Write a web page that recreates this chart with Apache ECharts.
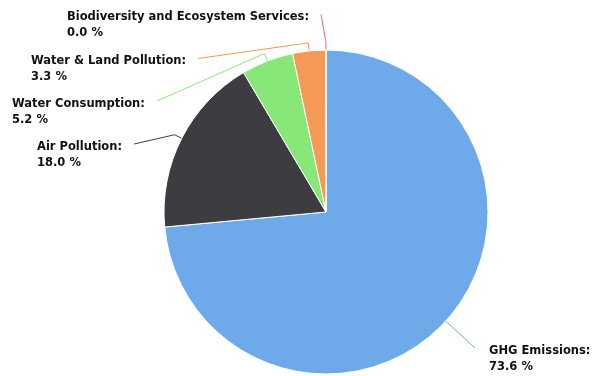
<!DOCTYPE html>
<html>
<head>
<meta charset="utf-8">
<script src="https://cdn.jsdelivr.net/npm/echarts@6/dist/echarts.min.js"></script>
<style>html,body{margin:0;padding:0;background:#fff;}#c{width:599px;height:376px;}</style>
</head>
<body>
<div id="c"></div>
<script>
const categories = ['GHG Emissions', 'Air Pollution', 'Water Consumption', 'Water & Land Pollution', 'Biodiversity and Ecosystem Services'];
const values = [73.6, 18.0, 5.2, 3.3, 0.01];
const colors = ['#6eaae9', '#3d3c41', '#88e877', '#f59a56', '#f2607f'];

// label layout (top-left of label block) and side
const labelPos = [
  { x: 489, y: 343, side: 'right' },
  { x: 37, y: 139, side: 'left' },
  { x: 12, y: 96, side: 'left' },
  { x: 31, y: 53.5, side: 'left' },
  { x: 67, y: 9.5, side: 'left' }
];

const chart = echarts.init(document.getElementById('c'), null, { renderer: 'canvas' });
chart.setOption({
  animation: false,
  series: [{
    type: 'pie',
    center: [326, 212],
    radius: 162,
    startAngle: 90,
    clockwise: true,
    avoidLabelOverlap: false,
    data: categories.map((n, i) => ({ name: n, value: values[i], itemStyle: { color: colors[i] } })),
    itemStyle: { borderColor: '#fff', borderWidth: 1 },
    emphasis: { disabled: true },
    label: {
      show: true,
      position: 'outside',
      formatter: p => p.name + ':\n' + p.value.toFixed(1) + ' %',
      fontFamily: 'DejaVu Sans',
      fontSize: 11.5,
      fontWeight: 'bold',
      color: '#111',
      lineHeight: 16
    },
    labelLine: { show: true, length: 8, length2: 10, lineStyle: { width: 1 } },
    labelLayout: function (params) {
      const lp = labelPos[params.dataIndex];
      const w = params.labelRect.width;
      const pts = params.labelLinePoints;
      let end;
      if (lp.side === 'left') end = [lp.x + w + 12, lp.y + 5];
      else end = [lp.x - 14, lp.y + 5];
      const out = { x: lp.x, y: lp.y, align: 'left', verticalAlign: 'top' };
      if (pts) out.labelLinePoints = [pts[0], pts[1], end];
      return out;
    }
  }]
});
</script>
</body>
</html>
